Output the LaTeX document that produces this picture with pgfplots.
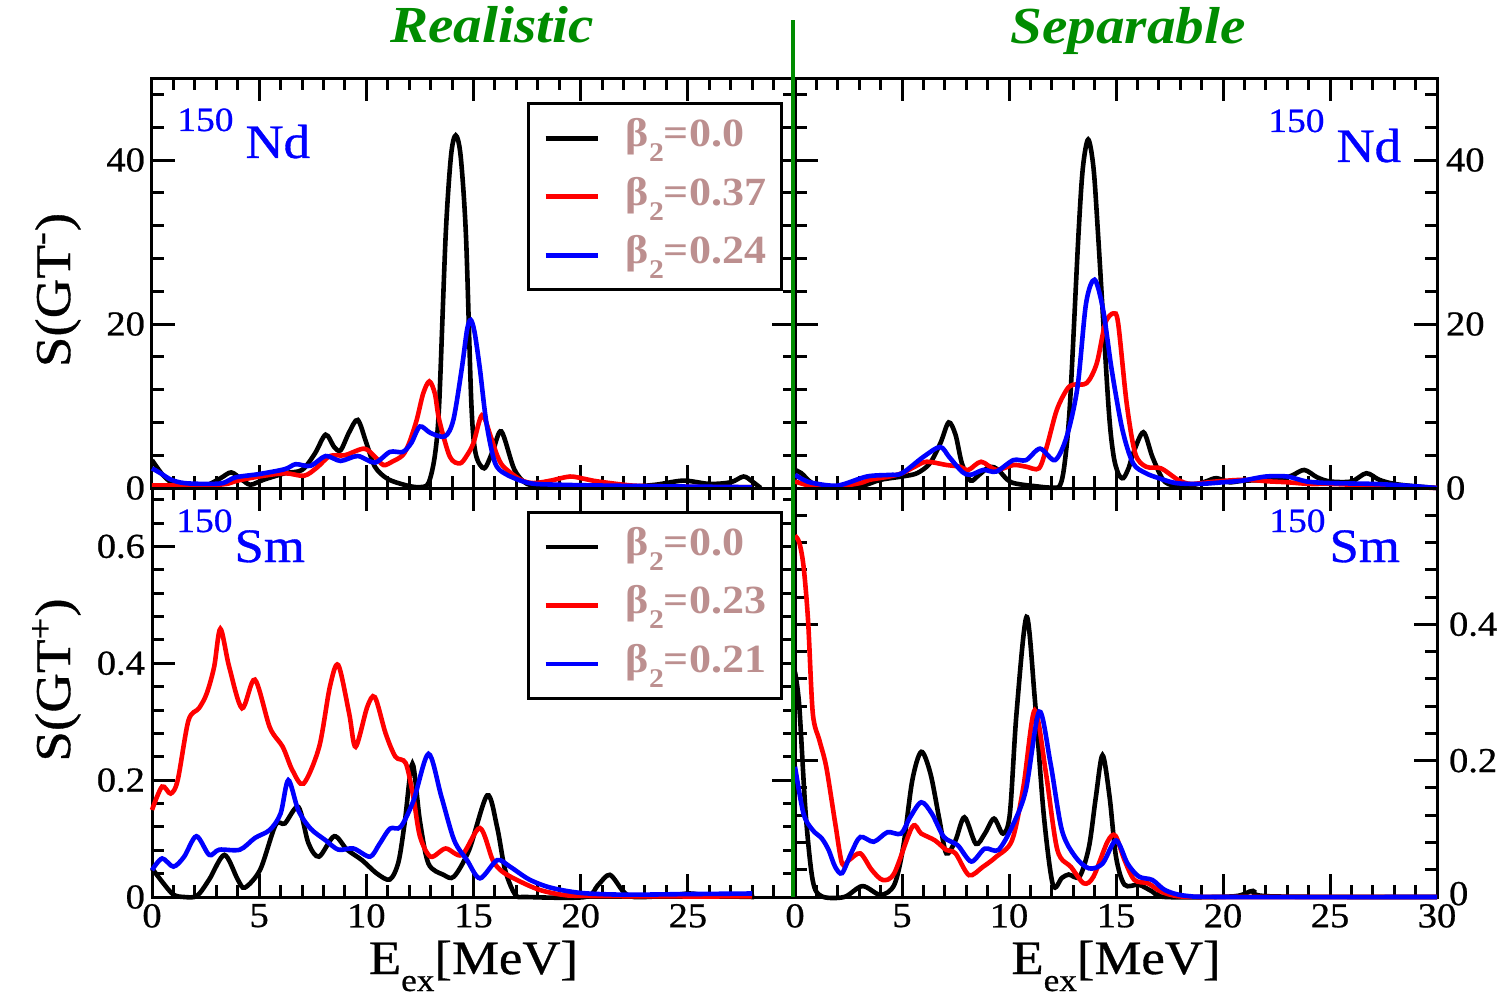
\documentclass[border=0pt]{standalone}
\usepackage{pgfplots}
\pgfplotsset{compat=1.18}
\usepackage{fontspec}
\setmainfont{Liberation Serif}[FakeStretch=1.1, UprightFeatures={FakeBold=0.7}]
\definecolor{mygreen}{RGB}{0,140,0}
\definecolor{legbrown}{RGB}{188,143,143}
\newcommand{\bsub}[1]{β\raisebox{-7.5pt}{\fontsize{13.5}{13.5}\selectfont 2}=#1}
\pgfplotsset{
  panel/.style={
    scale only axis,
    xmin=0, xmax=30,
    xtick={0,5,...,30}, minor xtick={0,1,...,30},
    xtick pos=both, ytick pos=both,
    tick align=inside,
    major tick length=11.5pt, minor tick length=6pt,
    tick style={line width=1.5pt, black},
    axis line style={line width=1.5pt},
    tick label style={font=\fontsize{17.5}{17.5}\selectfont},
    /pgf/number format/assume math mode=true,
    clip=false,
    every axis plot/.append style={line width=2.3pt, smooth, tension=0.5},
    legend cell align=left,
    legend image code/.code={\draw[##1, line width=2.3pt] (0pt,0pt) -- (26pt,0pt);},
    legend style={anchor=north west, draw=black, line width=1.5pt, fill=white,
      inner xsep=7.5pt, inner ysep=7pt, row sep=8.75pt, column sep=13pt,
      font=\fontsize{20}{20}\selectfont\bfseries,
      nodes={inner sep=0pt, text height=14.5pt, text depth=6pt, text=legbrown}},
  }
}
\begin{document}
\begin{tikzpicture}
\useasboundingbox (0,0) rectangle (750.5pt,499pt);
% ---------------- top left ----------------
\begin{axis}[panel, at={(76pt,255pt)}, anchor=south west, width=321.5pt, height=205pt,
  ymin=0, ymax=50, ytick={0,20,40}, minor ytick={4,8,...,48}, xticklabels={},
  legend style={at={(0.583,0.941)}}]
\addplot[black] coordinates {(0,3.4) (0.5,1.6) (1,0.5) (1.5,0.2) (2.5,0.3) (3.2,1.2) (3.7,1.9) (4.2,1.0) (4.6,0.4) (5.2,1.0) (6.2,1.8) (7.0,2.2) (7.6,4.2) (8.1,6.5) (8.5,5.0) (8.8,4.6) (9.2,6.8) (9.6,8.3) (10.0,5.5) (10.4,2.6) (11.0,1.1) (11.9,0.3) (12.5,0.1) (12.9,0.6) (13.2,4) (13.4,10.3) (13.7,30.7) (13.95,40.5) (14.17,43) (14.4,40.5) (14.65,30.7) (14.9,10.3) (15.1,4.2) (15.5,2.4) (15.9,4.5) (16.3,6.9) (16.9,2.3) (17.5,0.5) (18.5,0.1) (20,0.1) (22,0.1) (23.5,0.4) (24.8,0.9) (26,0.5) (27,0.7) (27.6,1.4) (28.0,0.8) (28.4,0)};
\addlegendentry{\bsub{0.0}}
\addplot[red] coordinates {(0,0.3) (1,0.3) (2,0.3) (3,0.4) (3.5,0.5) (4.0,0.9) (5,1.4) (6.2,1.8) (7.1,1.5) (7.7,2.5) (8.3,3.9) (9.0,4.0) (9.9,4.8) (10.4,3.8) (10.8,2.8) (11.2,3.2) (11.7,4.0) (12.0,5.5) (12.35,8.3) (12.65,11.5) (12.94,13.0) (13.2,11.5) (13.4,8.3) (13.9,3.8) (14.37,3.0) (14.7,4.0) (15.0,5.5) (15.4,8.9) (15.8,6.3) (16.1,4.0) (16.4,2.6) (17.2,1.0) (17.8,0.6) (18.6,0.9) (19.5,1.4) (20.2,1.1) (20.8,0.8) (22.4,0.3) (24,0.2) (26,0.1) (28,0.1)};
\addlegendentry{\bsub{0.37}}
\addplot[blue] coordinates {(0,2.4) (0.4,1.8) (0.9,1.0) (1.5,0.6) (2.5,0.5) (3.3,0.6) (3.9,1.3) (5.0,1.7) (6.2,2.3) (6.7,2.9) (7.4,2.7) (8.1,3.9) (8.8,3.3) (9.6,3.9) (10.4,3.1) (11.1,4.4) (11.7,4.4) (12.1,5.5) (12.5,7.5) (13.0,6.7) (13.67,6.3) (14.06,8.3) (14.45,14.5) (14.7,19.3) (14.87,20.5) (15.05,19) (15.3,14.5) (15.6,8.0) (16.0,3.1) (16.5,1.7) (17.6,0.6) (19,0.4) (21,0.3) (24,0.2) (26,0.15) (28,0.1)};
\addlegendentry{\bsub{0.24}}
\end{axis}
% ---------------- top right ----------------
\begin{axis}[panel, at={(397.5pt,255pt)}, anchor=south west, width=321pt, height=205pt,
  ymin=0, ymax=50, ytick={0,20,40}, minor ytick={4,8,...,48}, xticklabels={},
  yticklabel pos=right, yticklabel style={xshift=1pt}]
\addplot[black] coordinates {(0,2.2) (0.3,1.8) (0.8,0.6) (1.5,0.2) (3.0,0.2) (4.0,1.0) (5.0,1.4) (5.7,1.8) (6.3,3.0) (6.8,5.5) (7.18,8.0) (7.5,6.5) (7.8,3.0) (8.2,0.9) (8.6,1.6) (9.1,2.6) (9.5,2.2) (10.1,0.7) (11.3,0.2) (12.0,0.05) (12.38,0.3) (12.6,3) (12.85,10.3) (13.24,30.6) (13.45,39) (13.7,42.5) (13.95,39) (14.17,30.6) (14.64,10.3) (14.87,4.2) (15.1,1.8) (15.34,1.2) (15.6,2.5) (15.8,4.2) (16.28,6.8) (16.7,3.8) (17.2,1.0) (17.7,0.3) (18.5,0.3) (19.2,0.8) (19.7,1.2) (20.3,0.7) (21,0.9) (22.5,1.0) (23.2,1.5) (23.8,2.2) (24.4,1.3) (25,0.8) (26,0.8) (26.7,1.8) (27.3,1.0) (28,0.5) (29,0.2) (30,0)};
\addplot[red] coordinates {(0,0.8) (0.5,0.4) (1,0.2) (2,0.2) (3.04,0.6) (3.5,1.0) (4.4,1.4) (5.0,1.8) (5.6,2.6) (6.15,3.2) (7.1,2.8) (7.7,2.6) (8.1,2.2) (8.7,3.2) (9.4,2.2) (10.2,2.8) (10.8,2.6) (11.4,2.4) (11.76,5.0) (12.23,9.5) (12.7,12.0) (13.0,12.6) (13.63,12.8) (14.1,15.2) (14.5,20.1) (14.88,21.3) (15.1,20.1) (15.5,10.3) (15.9,4.2) (16.4,2.6) (17.1,2.4) (17.9,1.0) (18.5,0.5) (19.7,0.8) (21,1.0) (22.2,0.8) (23,0.7) (24,0.5) (25,0.5) (26,0.4) (27,0.3) (28,0.2) (30,0)};
\addplot[blue] coordinates {(0,1.6) (0.4,1.0) (0.85,0.6) (2,0.3) (3.35,1.4) (4.4,1.6) (5.0,1.8) (6.0,3.8) (6.78,5.0) (7.2,3.8) (7.8,2.0) (8.2,1.6) (8.8,2.2) (9.4,2.0) (10.2,3.4) (10.8,3.4) (11.45,4.8) (12.15,3.4) (12.7,6.3) (13.2,12.3) (13.6,22.5) (14.0,25.4) (14.4,21.7) (14.8,14.4) (15.3,7.1) (15.8,3.0) (16.4,1.8) (17.0,1.2) (17.8,0.6) (18.9,0.5) (20.0,0.7) (20.9,0.9) (22.0,1.4) (23.0,1.4) (23.9,0.8) (25,0.6) (27,0.5) (28.5,0.3) (30,0)};
\end{axis}
% ---------------- bottom left ----------------
\begin{axis}[panel, at={(76pt,50.5pt)}, anchor=south west, width=321.5pt, height=204.5pt,
  ymin=0, ymax=0.7, ytick={0,0.2,0.4,0.6}, yticklabels={0,0.2,0.4,0.6},
  minor ytick={0.04,0.08,0.12,0.16,0.24,0.28,0.32,0.36,0.44,0.48,0.52,0.56,0.64,0.68},
  xticklabels={0,5,10,15,20,25,},
  legend style={at={(0.583,0.944)}}]
\addplot[black] coordinates {(0,0.049) (0.52,0.024) (1.0,0.004) (1.5,0) (2.1,0.002) (2.67,0.03) (3.38,0.072) (4.0,0.03) (4.33,0.016) (5.05,0.047) (5.76,0.123) (6.2,0.126) (6.83,0.154) (7.3,0.092) (7.79,0.069) (8.5,0.104) (9.1,0.081) (9.8,0.063) (10.5,0.04) (11.1,0.03) (11.5,0.06) (11.8,0.13) (12.15,0.228) (12.5,0.13) (12.9,0.057) (13.6,0.038) (14.09,0.035) (14.8,0.081) (15.64,0.174) (16.1,0.12) (16.47,0.047) (16.95,0.004) (17.5,0) (20.2,0) (20.8,0.02) (21.36,0.038) (22.0,0.009) (22.5,0) (24,0.002) (25.1,0.006) (26,0.002) (28.1,0)};
\addlegendentry{\bsub{0.0}}
\addplot[red] coordinates {(0,0.149) (0.47,0.189) (0.87,0.177) (1.2,0.2) (1.7,0.302) (2.19,0.323) (2.55,0.348) (2.9,0.394) (3.19,0.459) (3.6,0.394) (4.2,0.323) (4.8,0.372) (5.5,0.29) (6.1,0.257) (6.55,0.217) (7.07,0.194) (7.8,0.257) (8.3,0.36) (8.69,0.397) (9.2,0.314) (9.5,0.257) (10.04,0.325) (10.4,0.342) (10.9,0.28) (11.36,0.24) (11.84,0.229) (12.19,0.172) (12.5,0.104) (13.0,0.069) (13.7,0.083) (14.46,0.072) (15.3,0.118) (15.9,0.063) (16.36,0.043) (17.2,0.026) (18.1,0.012) (19.1,0.004) (20,0.002) (24,0.001) (28,0.001)};
\addlegendentry{\bsub{0.23}}
\addplot[blue] coordinates {(0,0.046) (0.47,0.066) (1.0,0.052) (1.5,0.069) (2.07,0.104) (2.67,0.072) (3.14,0.081) (4.1,0.081) (4.8,0.101) (5.5,0.115) (6.0,0.143) (6.36,0.2) (6.83,0.148) (7.4,0.117) (8.1,0.097) (8.7,0.081) (9.4,0.083) (10.17,0.069) (10.6,0.09) (11.1,0.117) (11.6,0.12) (12.2,0.165) (12.9,0.245) (13.5,0.172) (14.1,0.097) (14.7,0.063) (15.3,0.032) (16.1,0.063) (16.7,0.052) (17.6,0.03) (18.6,0.016) (20.0,0.007) (22,0.004) (25,0.005) (28,0.006)};
\addlegendentry{\bsub{0.21}}
\end{axis}
% ---------------- bottom right ----------------
\begin{axis}[panel, at={(397.5pt,50.5pt)}, anchor=south west, width=321pt, height=204.5pt,
  ymin=0, ymax=0.6, ytick={0,0.2,0.4}, yticklabels={\raisebox{3.5pt}{0},0.2,0.4},
  minor ytick={0.04,0.08,0.12,0.16,0.24,0.28,0.32,0.36,0.44,0.48,0.52,0.56},
  yticklabel pos=right, yticklabel style={xshift=2.5pt}]
\addplot[black] coordinates {(0,0.33) (0.2,0.28) (0.5,0.122) (0.83,0.024) (1.25,0.001) (2.3,0) (3.15,0.016) (4.0,0.003) (4.64,0.018) (5.06,0.074) (5.48,0.171) (5.9,0.213) (6.33,0.181) (6.75,0.113) (7.07,0.064) (7.5,0.083) (7.92,0.117) (8.45,0.078) (8.87,0.093) (9.3,0.115) (9.72,0.093) (10.04,0.122) (10.35,0.269) (10.82,0.411) (11.2,0.293) (11.62,0.122) (12.05,0.018) (12.47,0.028) (12.79,0.033) (13.3,0.03) (13.74,0.074) (14.06,0.147) (14.37,0.208) (14.7,0.147) (15.0,0.059) (15.4,0.018) (16.07,0.018) (16.7,0.008) (17.3,0) (20.5,0.001) (21.4,0.009) (22.2,0.001) (30,0)};
\addplot[red] coordinates {(0,0.53) (0.2,0.52) (0.4,0.485) (0.61,0.406) (0.83,0.27) (1.14,0.23) (1.46,0.191) (1.88,0.108) (2.2,0.049) (2.52,0.054) (3.05,0.064) (3.58,0.04) (4.1,0.025) (4.64,0.035) (5.48,0.103) (5.9,0.093) (6.54,0.083) (7.07,0.069) (7.5,0.064) (8.13,0.032) (8.77,0.044) (9.4,0.059) (10.14,0.083) (10.67,0.161) (11.2,0.274) (11.73,0.181) (12.26,0.069) (12.9,0.044) (13.5,0.02) (13.95,0.03) (14.6,0.081) (14.97,0.09) (15.4,0.054) (15.86,0.025) (16.5,0.02) (17.1,0.008) (17.97,0.001) (20,0) (30,0)};
\addplot[blue] coordinates {(0,0.191) (0.4,0.122) (0.83,0.098) (1.25,0.086) (1.57,0.069) (1.88,0.044) (2.2,0.035) (2.62,0.064) (3.05,0.088) (3.68,0.081) (4.32,0.095) (4.95,0.093) (5.38,0.117) (5.9,0.139) (6.4,0.122) (6.96,0.088) (7.6,0.076) (8.24,0.052) (8.87,0.071) (9.5,0.069) (10.14,0.103) (10.78,0.156) (11.41,0.272) (11.94,0.196) (12.47,0.098) (13.1,0.059) (13.74,0.042) (14.37,0.049) (15.0,0.083) (15.54,0.049) (16.07,0.03) (16.7,0.025) (17.3,0.01) (18.2,0.002) (20,0) (30,0)};
\end{axis}
% ---------------- decorations ----------------
\draw[mygreen, line width=2pt] (396.5pt,50.5pt) -- (396.5pt,489pt);
\node[anchor=base, text=mygreen, font=\fontsize{26}{26}\selectfont\bfseries\itshape] at (246pt,477.5pt) {Realistic};
\node[anchor=base, text=mygreen, font=\fontsize{26}{26}\selectfont\bfseries\itshape] at (564pt,477pt) {Separable};
\node[rotate=90, anchor=base, font=\fontsize{25}{25}\selectfont] at (35pt,354pt) {S(GT\textsuperscript{-})};
\node[rotate=90, anchor=base, font=\fontsize{25}{25}\selectfont] at (35pt,159pt) {S(GT\textsuperscript{+})};
\node[anchor=base, inner sep=0pt, font=\fontsize{24}{24}\selectfont] at (236.75pt,12pt) {E\raisebox{-8.5pt}{\fontsize{16}{16}\selectfont ex}[MeV]};
\node[anchor=base, inner sep=0pt, font=\fontsize{24}{24}\selectfont] at (558pt,12pt) {E\raisebox{-8.5pt}{\fontsize{16}{16}\selectfont ex}[MeV]};
\node[anchor=base west, inner sep=0pt, text=blue] at (88.5pt,420pt) {\fontsize{17}{17}\selectfont\raisebox{13.5pt}{150}\hspace{6pt}\fontsize{24}{24}\selectfont Nd};
\node[anchor=base west, inner sep=0pt, text=blue] at (634pt,418pt) {\fontsize{17}{17}\selectfont\raisebox{15pt}{150}\hspace{6pt}\fontsize{24}{24}\selectfont Nd};
\node[anchor=base west, inner sep=0pt, text=blue] at (88pt,218pt) {\fontsize{17}{17}\selectfont\raisebox{15pt}{150}\hspace{1pt}\fontsize{24}{24}\selectfont Sm};
\node[anchor=base west, inner sep=0pt, text=blue] at (634.5pt,218pt) {\fontsize{17}{17}\selectfont\raisebox{15pt}{150}\hspace{2pt}\fontsize{24}{24}\selectfont Sm};
\end{tikzpicture}
\end{document}
